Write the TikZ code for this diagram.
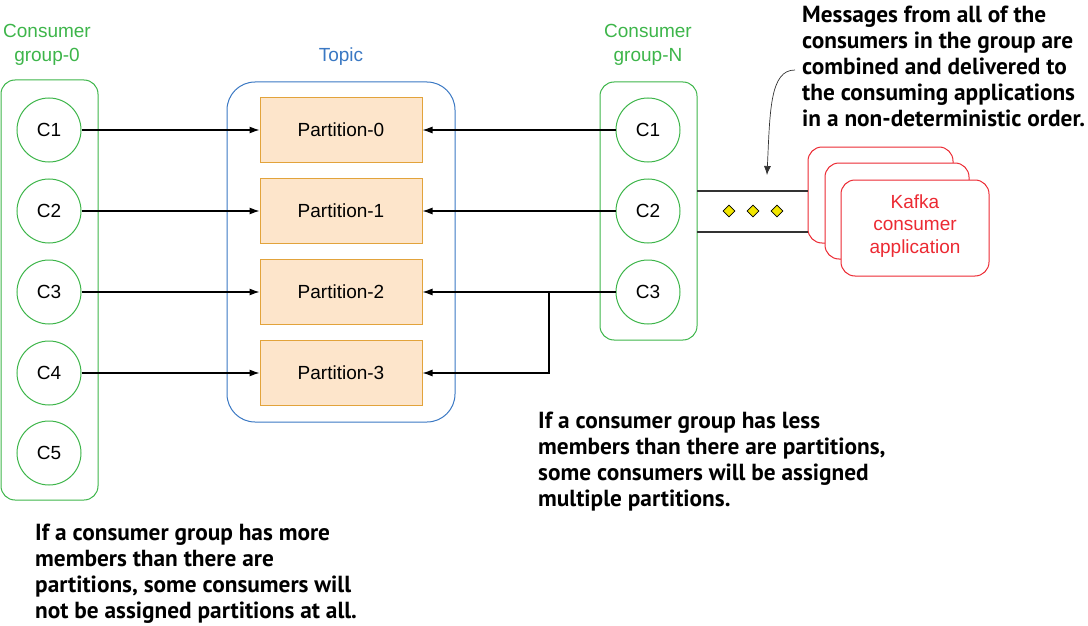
\documentclass[tikz,border=0pt]{standalone}
\usepackage{fontspec}
\setmainfont{Liberation Sans}
\newfontfamily\notefont{PT Sans}
\usetikzlibrary{arrows.meta,shapes.geometric}
\definecolor{grp}{HTML}{3DB54A}
\definecolor{topicblue}{HTML}{3A78C3}
\definecolor{partborder}{HTML}{E2A33B}
\definecolor{partfill}{HTML}{FDE5CB}
\definecolor{appred}{HTML}{EC2A33}
\definecolor{dia}{HTML}{F2E600}
\tikzset{
  lbl/.style={font=\fontsize{19}{24}\selectfont, align=center},
  grpbox/.style={draw=grp, line width=1pt, rounded corners=14pt},
  cons/.style={circle, draw=grp, line width=1pt, minimum size=64pt, inner sep=0pt, font=\fontsize{19}{22}\selectfont},
  part/.style={draw=partborder, fill=partfill, line width=1pt, minimum width=162pt, minimum height=65pt, inner sep=0pt, font=\fontsize{19}{22}\selectfont},
  appbox/.style={draw=appred, fill=white, line width=1pt, rounded corners=14pt},
  conn/.style={line width=1.1pt, -{Latex[length=10pt,width=7pt]}},
  note/.style={font=\notefont\bfseries\fontsize{23.3}{26}\selectfont, align=left, anchor=base west, inner sep=0pt},
  dot/.style={diamond, draw=black, fill=dia, line width=0.8pt, minimum size=12pt, inner sep=0pt},
}
\begin{document}
\begin{tikzpicture}[x=1pt,y=-1pt]
\useasboundingbox (0,0) rectangle (1088,626);
% group-0
\draw[grpbox] (1,80) rectangle (98,500);
\node[lbl, text=grp] (g0lbl) at (47,45) {Consumer\\group-0};
\foreach \i/\y in {1/130,2/211,3/292,4/373,5/453}{
  \node[cons] (a\i) at (49,\y) {C\i};
}
% topic
\draw[topicblue, line width=1pt, rounded corners=28pt] (227,82) rectangle (455,422);
\node[lbl, text=topicblue] (tlbl) at (341,57) {Topic};
\foreach \i/\y in {0/130,1/211,2/292,3/373}{
  \node[part] (p\i) at (341,\y) {Partition-\i};
}
% group-N
\draw[grpbox] (600,82) rectangle (697,340);
\node[lbl, text=grp] (gnlbl) at (648,45) {Consumer\\group-N};
\foreach \i/\y in {1/130,2/211,3/292}{
  \node[cons] (b\i) at (648,\y) {C\i};
}
% connectors
\draw[conn] (a1) -- (p0);
\draw[conn] (a2) -- (p1);
\draw[conn] (a3) -- (p2);
\draw[conn] (a4) -- (p3);
\draw[conn] (b1) -- (p0);
\draw[conn] (b2) -- (p1);
\draw[conn] (b3) -- (p2);
\coordinate (br) at (549,292);
\draw[conn] (br) |- (p3.east);
% apps
\draw[appbox] (808,147) rectangle (953,243);
\draw[appbox] (825,163) rectangle (969,259);
\draw[appbox] (841,180) rectangle (989,276);
\node[font=\fontsize{19}{22.5}\selectfont, align=center, text=appred] (app) at (915,226) {Kafka\\consumer\\application};
% pipe
\coordinate (pt1) at (697,191);
\coordinate (pt2) at (808,191);
\coordinate (pb1) at (697,232);
\coordinate (pb2) at (808,232);
\draw[line width=1.1pt, black!80] (pt1) -- (pt2);
\draw[line width=1.1pt, black!80] (pb1) -- (pb2);
\node[dot] (d1) at (729,211) {};
\node[dot] (d2) at (753,211) {};
\node[dot] (d3) at (777,211) {};
% notes
\node[note] (n1) at (802,126) {Messages from all of the\\consumers in the group are\\combined and delivered to\\the consuming applications\\in a non-deterministic order.};
\coordinate (ca) at (795,70);
\coordinate (cb) at (767,175);
\draw[line width=0.7pt, black!80, -{Latex[length=9pt,width=7pt]}] (ca) .. controls (770,70) and (770,110) .. (cb);
\node[note] (n2) at (538,506) {If a consumer group has less\\members than there are partitions,\\some consumers will be assigned\\multiple partitions.};
\node[note] (n3) at (35,618) {If a consumer group has more\\members than there are\\partitions, some consumers will\\not be assigned partitions at all.};
\end{tikzpicture}
\end{document}
